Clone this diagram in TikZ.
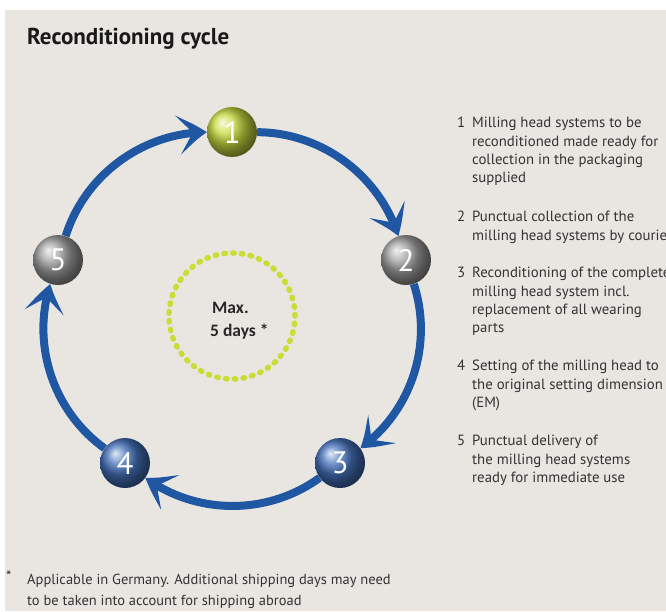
\documentclass[tikz,border=0pt]{standalone}
\usepackage{fontspec}
\setmainfont{PT Sans}
\newfontfamily\calfont{Carlito}
\usetikzlibrary{arrows.meta,bending}
\definecolor{bg}{HTML}{E9E6E2}
\definecolor{arrowblue}{HTML}{1F57A3}
\definecolor{dotgreen}{HTML}{CBDD35}
\definecolor{ballgreen}{HTML}{C8DB40}
\definecolor{ballgray}{HTML}{A0A0A0}
\definecolor{ballblue}{HTML}{4470BA}
\definecolor{txt}{HTML}{333333}
\begin{document}
\begin{tikzpicture}[x=1pt,y=-1pt,
  ballnode/.style={circle, minimum size=50pt, inner sep=0pt, text=white,
    font=\fontsize{31}{31}\selectfont},
  cyclearrow/.style={draw=arrowblue, line width=8pt,
    -{Stealth[length=29pt,width=39pt,inset=15pt,bend]}, bend left=36, looseness=0.94},
  itemtext/.style={anchor=north west, align=left, inner sep=0pt, text=txt,
    font=\fontsize{14.8}{18.4}\selectfont},
  itemnum/.style={anchor=north west, inner sep=0pt, text=txt,
    font=\fontsize{14.8}{18.4}\selectfont}
]
\useasboundingbox (0,0) rectangle (666,611);
\fill[white] (0,0) rectangle (666,611);
\fill[bg] (5,10) rectangle (666,611);

\node[anchor=base west, inner sep=0pt, font=\bfseries\fontsize{23}{26}\selectfont, text=black!90] (title) at (27,44) {Reconditioning cycle};

% dotted inner circle
\node[circle, minimum size=126pt, inner sep=0pt, draw=dotgreen, line width=5.5pt,
  dash pattern=on 1.5pt off 7.3pt, line cap=round] (inner) at (232,316) {};
\node[anchor=base west, inner sep=0pt, font=\calfont\bfseries\fontsize{17.5}{20}\selectfont, text=black!85] (max) at (212,313) {Max.};
\node[anchor=base west, inner sep=0pt, font=\calfont\bfseries\fontsize{17.5}{20}\selectfont, text=black!85] (days) at (210,336) {5 days *};

% balls
\node[ballnode, ball color=ballgreen] (b1) at (232,132) {1};
\node[ballnode, ball color=ballgray] (b2) at (406,260) {2};
\node[ballnode, ball color=ballblue] (b3) at (340,463) {3};
\node[ballnode, ball color=ballblue] (b4) at (125,463) {4};
\node[ballnode, ball color=ballgray] (b5) at (58,260) {5};

% arrows (clockwise)
\draw[cyclearrow] (b1) to (b2);
\draw[cyclearrow] (b2) to (b3);
\draw[cyclearrow] (b3) to (b4);
\draw[cyclearrow] (b4) to (b5);
\draw[cyclearrow] (b5) to (b1);

% list
\node[itemnum] (n1) at (457,117) {1};
\node[itemtext] (t1) at (472,117) {Milling head systems to be\\reconditioned made ready for\\collection in the packaging\\supplied};
\node[itemnum] (n2) at (457,211) {2};
\node[itemtext] (t2) at (472,211) {Punctual collection of the\\milling head systems by courier};
\node[itemnum] (n3) at (457,267) {3};
\node[itemtext] (t3) at (472,267) {Reconditioning of the complete\\milling head system incl.\\replacement of all wearing\\parts};
\node[itemnum] (n4) at (457,360) {4};
\node[itemtext] (t4) at (472,360) {Setting of the milling head to\\the original setting dimension\\(EM)};
\node[itemnum] (n5) at (457,435) {5};
\node[itemtext] (t5) at (472,435) {Punctual delivery of\\the milling head systems\\ready for immediate use};

% footnote
\node[anchor=north west, inner sep=0pt, text=txt, font=\fontsize{15}{18}\selectfont] (star) at (6,571) {*};
\node[anchor=north west, align=left, inner sep=0pt, text=txt, font=\fontsize{14.5}{20.5}\selectfont] (foot) at (27,574) {Applicable in Germany. Additional shipping days may need\\to be taken into account for shipping abroad};
\end{tikzpicture}
\end{document}
